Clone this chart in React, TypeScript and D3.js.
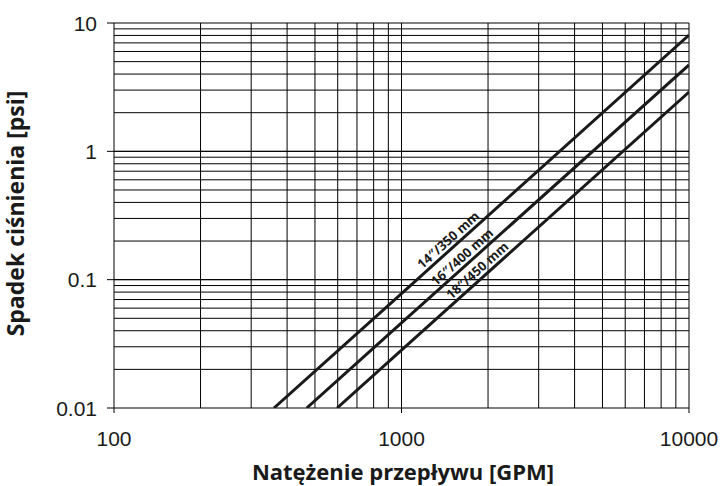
import React from "react";
import * as d3 from "d3";

const xTickValues = [100, 1000, 10000];
const xTickLabels = ["100", "1000", "10000"];
const yTickValues = [0.01, 0.1, 1, 10];
const yTickLabels = ["0.01", "0.1", "1", "10"];

const seriesNames = ["14″/350 mm", "16″/400 mm", "18″/450 mm"];
const flow14 = [360, 1000, 10000];
const drop14 = [0.01, 0.078, 8.06];
const flow16 = [468, 1000, 10000];
const drop16 = [0.01, 0.046, 4.71];
const flow18 = [597, 1000, 10000];
const drop18 = [0.01, 0.0283, 2.9];
const labelFlow = [1522, 1702, 1920];

const W = 723;
const H = 486;
const M = { left: 114, right: 689, top: 23, bottom: 408 };

export default function App() {
  const x = d3.scaleLog().domain([100, 10000]).range([M.left, M.right]);
  const y = d3.scaleLog().domain([0.01, 10]).range([M.bottom, M.top]);

  const xGrid: number[] = [];
  const yGrid: number[] = [];
  for (const d of [100, 1000]) for (let k = 1; k <= 10; k++) xGrid.push(d * k);
  for (const d of [0.01, 0.1, 1]) for (let k = 1; k <= 10; k++) yGrid.push(d * k);

  const series = [
    { name: seriesNames[0], fx: flow14, fy: drop14, lf: labelFlow[0] },
    { name: seriesNames[1], fx: flow16, fy: drop16, lf: labelFlow[1] },
    { name: seriesNames[2], fx: flow18, fy: drop18, lf: labelFlow[2] },
  ];

  const line = d3
    .line<[number, number]>()
    .x((d) => x(d[0]))
    .y((d) => y(d[1]));

  const interp = (fx: number[], fy: number[], q: number) => {
    const lx = fx.map(Math.log10);
    const ly = fy.map(Math.log10);
    const lq = Math.log10(q);
    let i = 0;
    while (i < lx.length - 2 && lq > lx[i + 1]) i++;
    const t = (lq - lx[i]) / (lx[i + 1] - lx[i]);
    return Math.pow(10, ly[i] + t * (ly[i + 1] - ly[i]));
  };

  const titleFont = "'Open Sans', 'Noto Sans', sans-serif";
  const tickFont = "'Liberation Sans', Arial, sans-serif";

  return (
    <svg
      width={W}
      height={H}
      style={{ position: "absolute", left: 0, top: 0, background: "#fff" }}
    >
      <defs>
        <clipPath id="plot">
          <rect x={M.left} y={M.top} width={M.right - M.left} height={M.bottom - M.top} />
        </clipPath>
      </defs>
      <g stroke="#000" strokeWidth={1}>
        {xGrid.map((v, i) => (
          <line key={"xg" + i} x1={x(v)} x2={x(v)} y1={M.top} y2={M.bottom} />
        ))}
        {yGrid.map((v, i) => (
          <line key={"yg" + i} x1={M.left} x2={M.right} y1={y(v)} y2={y(v)} />
        ))}
        {yTickValues.map((v, i) => (
          <line key={"yt" + i} x1={M.left - 7} x2={M.left} y1={y(v)} y2={y(v)} />
        ))}
        {xTickValues.map((v, i) => (
          <line key={"xt" + i} x1={x(v)} x2={x(v)} y1={M.bottom} y2={M.bottom + 5} />
        ))}
      </g>
      <g clipPath="url(#plot)">
        {series.map((s, i) => (
          <path
            key={"s" + i}
            d={line(s.fx.map((q, j) => [q, s.fy[j]] as [number, number])) || ""}
            fill="none"
            stroke="#1a1a1a"
            strokeWidth={3}
          />
        ))}
      </g>
      {series.map((s, i) => {
        const px = x(s.lf);
        const py = y(interp(s.fx, s.fy, s.lf));
        const px2 = x(s.lf * 1.1);
        const py2 = y(interp(s.fx, s.fy, s.lf * 1.1));
        const ang = (Math.atan2(py2 - py, px2 - px) * 180) / Math.PI;
        return (
          <text
            key={"l" + i}
            transform={`translate(${px},${py}) rotate(${ang})`}
            dy={-4}
            textAnchor="middle"
            fontFamily={titleFont}
            fontWeight={700}
            fontSize={13}
            fill="#1a1a1a"
          >
            {s.name}
          </text>
        );
      })}
      {yTickValues.map((v, i) => (
        <text
          key={"yl" + i}
          x={97}
          y={y(v)}
          dy="0.36em"
          textAnchor="end"
          fontFamily={tickFont}
          fontSize={21}
          fill="#1a1a1a"
        >
          {yTickLabels[i]}
        </text>
      ))}
      {xTickValues.map((v, i) => (
        <text
          key={"xl" + i}
          x={x(v)}
          y={446}
          textAnchor="middle"
          fontFamily={tickFont}
          fontSize={21}
          fill="#1a1a1a"
        >
          {xTickLabels[i]}
        </text>
      ))}
      <text
        x={403}
        y={480}
        textAnchor="middle"
        fontFamily={titleFont}
        fontWeight={700}
        fontSize={22}
        fill="#1a1a1a"
      >
        Natężenie przepływu [GPM]
      </text>
      <text
        transform={`translate(24,${(M.top + M.bottom) / 2 - 2}) rotate(-90)`}
        textAnchor="middle"
        fontFamily={titleFont}
        fontWeight={700}
        fontSize={23}
        fill="#1a1a1a"
      >
        Spadek ciśnienia [psi]
      </text>
    </svg>
  );
}
